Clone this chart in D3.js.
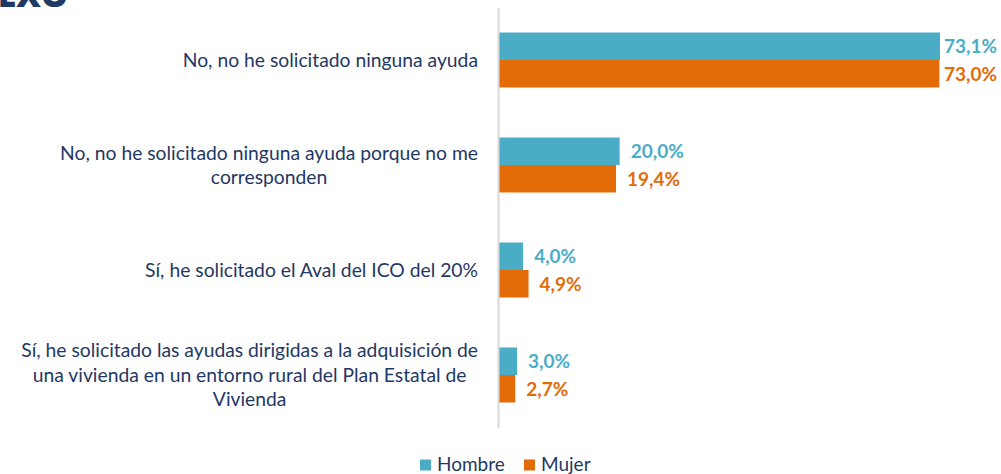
<!DOCTYPE html>
<html>
<head>
<meta charset="utf-8">
<script src="https://cdn.jsdelivr.net/npm/d3@7"></script>
<style>
  html, body { margin: 0; padding: 0; background: #fff; }
  svg { display: block; }
</style>
</head>
<body>
<svg id="chart" width="1001" height="474"></svg>
<script>
const categories = [
  "No, no he solicitado ninguna ayuda",
  "No, no he solicitado ninguna ayuda porque no me\ncorresponden",
  "Sí, he solicitado el Aval del ICO del 20%",
  "Sí, he solicitado las ayudas dirigidas a la adquisición de\nuna vivienda en un entorno rural del Plan Estatal de\nVivienda"
];
const seriesNames = ["Hombre", "Mujer"];
const hombre = [73.1, 20.0, 4.0, 3.0];
const mujer = [73.0, 19.4, 4.9, 2.7];
const colors = ["#4bacc6", "#e36c09"];
const navy = "#1f3864";

const svg = d3.select("#chart");
const W = 1001;
const fontFam = "Lato, 'Open Sans', sans-serif";

// partial title at top-left (cropped)
svg.append("text")
  .attr("x", 68).attr("y", 7)
  .attr("text-anchor", "end")
  .attr("font-family", "'Open Sans', Lato, sans-serif")
  .attr("font-weight", 800)
  .attr("font-size", 34)
  .attr("fill", navy)
  .text("SEXO");

const y = d3.scaleBand().domain(categories).range([7.5, 427.5]).paddingInner(0).paddingOuter(0);
const inner = d3.scaleBand().domain(seriesNames).range([0, 55]);
const x = d3.scaleLinear().domain([0, 73.1]).range([499, 940]);

const rows = categories.map((c, i) => ({ cat: c, vals: [hombre[i], mujer[i]] }));

const g = svg.selectAll("g.row").data(rows).enter().append("g")
  .attr("class", "row")
  .attr("transform", d => `translate(0,${y(d.cat) + y.bandwidth() / 2 - 27.5})`);

g.selectAll("rect").data(d => d.vals.map((v, k) => ({ v, k }))).enter().append("rect")
  .attr("x", x(0))
  .attr("y", d => inner(seriesNames[d.k]))
  .attr("width", d => x(d.v) - x(0))
  .attr("height", inner.bandwidth())
  .attr("fill", d => colors[d.k]);

g.selectAll("text.val").data(d => d.vals.map((v, k) => ({ v, k }))).enter().append("text")
  .attr("class", "val")
  .attr("y", d => inner(seriesNames[d.k]) + inner.bandwidth() / 2)
  .attr("dy", "0.36em")
  .attr("font-family", fontFam)
  .attr("font-weight", 700)
  .attr("font-size", 19)
  .attr("fill", d => colors[d.k])
  .text(d => d3.format(".1f")(d.v).replace(".", ",") + "%")
  .each(function(d) {
    const w = this.getComputedTextLength();
    const px = Math.min(x(d.v) + 11, W - 4 - w);
    d3.select(this).attr("x", px);
  });

// axis line
const yAxis = d3.axisLeft(y).tickSize(0).tickFormat("");
const ax = svg.append("g").attr("transform", `translate(${x(0) - 1},0)`).call(yAxis);
ax.select(".domain").attr("stroke", "#d9d9d9").attr("stroke-width", 2);

// category labels (centered blocks, right edge of longest line at ~478)
const rightEdge = 478;
const lh = 24.5;
svg.selectAll("text.cat").data(categories).enter().append("text")
  .attr("class", "cat")
  .attr("text-anchor", "middle")
  .attr("font-family", fontFam)
  .attr("font-size", 19.3)
  .attr("fill", navy)
  .each(function(c) {
    const lines = c.split("\n");
    const cy = y(c) + y.bandwidth() / 2;
    const t = d3.select(this);
    const spans = lines.map((ln, i) => t.append("tspan")
        .attr("y", cy + (i - (lines.length - 1) / 2) * lh)
        .attr("dy", "0.35em")
        .text(ln));
    const maxW = d3.max(spans, s => s.node().getComputedTextLength());
    spans.forEach(s => s.attr("x", rightEdge - maxW / 2));
  });

// legend
const legend = svg.append("g");
const legItems = [
  { name: seriesNames[0], sx: 420, tx: 437, c: colors[0] },
  { name: seriesNames[1], sx: 524, tx: 541, c: colors[1] }
];
legItems.forEach(it => {
  legend.append("rect").attr("x", it.sx).attr("y", 459.5).attr("width", 11).attr("height", 11).attr("fill", it.c);
  legend.append("text").attr("x", it.tx).attr("y", 471)
    .attr("font-family", fontFam).attr("font-size", 19).attr("fill", navy).text(it.name);
});
</script>
</body>
</html>
